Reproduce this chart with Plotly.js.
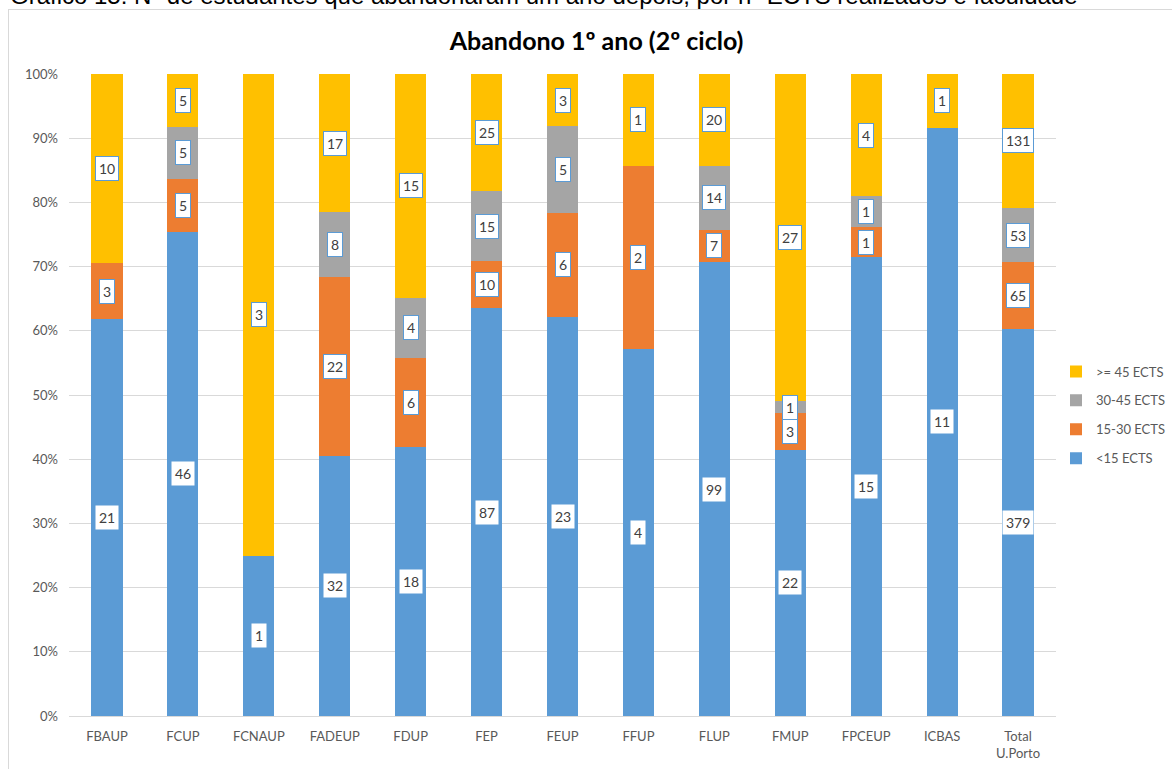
<!DOCTYPE html>
<html>
<head>
<meta charset="utf-8">
<script src="https://cdn.plot.ly/plotly-3.0.1.min.js"></script>
<style>
  html, body { margin: 0; padding: 0; background: #fff; overflow: hidden; }
  #frame { position: absolute; left: 8px; top: 9px; width: 1200px; height: 800px; border: 1px solid #d9d9d9; box-sizing: border-box; }
  #doc-title { position: absolute; left: 10px; top: -16px; font-family: "Liberation Sans", Arial, sans-serif; font-size: 24px; line-height: 24px; color: #000; white-space: nowrap; }
  #chart { position: absolute; left: 0; top: 0; width: 1172px; height: 769px; }
</style>
</head>
<body>
<div id="doc-title">Gráfico 15: Nº de estudantes que abandonaram um ano depois, por nº ECTS realizados e faculdade</div>
<div id="frame"></div>
<div id="chart"></div>
<script>
// ---- data ----
const categories = ["FBAUP", "FCUP", "FCNAUP", "FADEUP", "FDUP", "FEP", "FEUP", "FFUP", "FLUP", "FMUP", "FPCEUP", "ICBAS", "Total<br>U.Porto"];
const seriesNames = ["<15 ECTS", "15-30 ECTS", "30-45 ECTS", ">= 45 ECTS"];
const lt15   = [21, 46, 1, 32, 18, 87, 23, 4, 99, 22, 15, 11, 379];
const e15_30 = [3, 5, 0, 22, 6, 10, 6, 2, 7, 3, 1, 0, 65];
const e30_45 = [0, 5, 0, 8, 4, 15, 5, 0, 14, 1, 1, 0, 53];
const ge45   = [10, 5, 3, 17, 15, 25, 3, 1, 20, 27, 4, 1, 131];
const yTickVals = [0, 10, 20, 30, 40, 50, 60, 70, 80, 90, 100];
const yTickText = ["0%", "10%", "20%", "30%", "40%", "50%", "60%", "70%", "80%", "90%", "100%"];
const chartTitle = "Abandono 1º ano (2º ciclo)";

// ---- styling ----
const colors = ["#5B9BD5", "#ED7D31", "#A5A5A5", "#FFC000"];
const FONT = "Lato, 'Open Sans', sans-serif";
const series = [lt15, e15_30, e30_45, ge45];

const totals = categories.map((_, j) => series.reduce((s, arr) => s + arr[j], 0));
const pct = series.map(arr => arr.map((v, j) => v / totals[j] * 100));

const traces = series.map((arr, i) => ({
  type: "bar",
  name: seriesNames[i],
  x: categories,
  y: pct[i],
  customdata: arr,
  marker: { color: colors[i], line: { width: 0 } },
  legendgroup: "g" + i,
  legendrank: 10 - i,
  hovertemplate: "%{x}: %{customdata}<extra>" + seriesNames[i] + "</extra>"
}));

const annotations = [];
categories.forEach((c, j) => {
  let base = 0;
  series.forEach((arr, i) => {
    const p = pct[i][j];
    if (arr[j] > 0) {
      annotations.push({
        x: c, y: base + p / 2, xref: "x", yref: "y",
        text: String(arr[j]), showarrow: false,
        font: { family: FONT, size: 14, color: "#404040" },
        bgcolor: "#ffffff",
        bordercolor: i === 0 ? "rgba(0,0,0,0)" : "#5B9BD5",
        borderwidth: 1, borderpad: 3
      });
    }
    base += p;
  });
});

const layout = {
  width: 1172, height: 769,
  paper_bgcolor: "rgba(0,0,0,0)", plot_bgcolor: "rgba(0,0,0,0)",
  margin: { l: 69, r: 116, t: 74, b: 53, autoexpand: false },
  title: {
    text: "<b>" + chartTitle + "</b>",
    xref: "container", yref: "container",
    x: 0.509, y: 1 - 41 / 769, xanchor: "center", yanchor: "middle",
    font: { family: FONT, size: 25, color: "#000" }
  },
  barmode: "stack",
  bargap: 0.59,
  showlegend: true,
  legend: {
    x: 1.0, xanchor: "left", y: 0.56, yanchor: "top",
    traceorder: "grouped", tracegroupgap: 9,
    font: { family: FONT, size: 13, color: "#595959" },
    bgcolor: "rgba(0,0,0,0)"
  },
  xaxis: {
    type: "category",
    range: [-0.5, categories.length - 0.5],
    showgrid: false, zeroline: false,
    showline: true, linecolor: "#d9d9d9", linewidth: 1,
    ticks: "", ticklabelstandoff: 8,
    tickfont: { family: FONT, size: 13, color: "#595959" },
    fixedrange: true
  },
  yaxis: {
    range: [0, 100],
    tickvals: yTickVals, ticktext: yTickText,
    showgrid: true, gridcolor: "#d9d9d9", gridwidth: 1,
    zeroline: false, showline: false,
    ticks: "", ticklabelstandoff: 10,
    tickfont: { family: FONT, size: 13, color: "#595959" },
    fixedrange: true
  },
  annotations: annotations,
  font: { family: FONT }
};

Plotly.newPlot("chart", traces, layout, { displayModeBar: false, staticPlot: true });
</script>
</body>
</html>
